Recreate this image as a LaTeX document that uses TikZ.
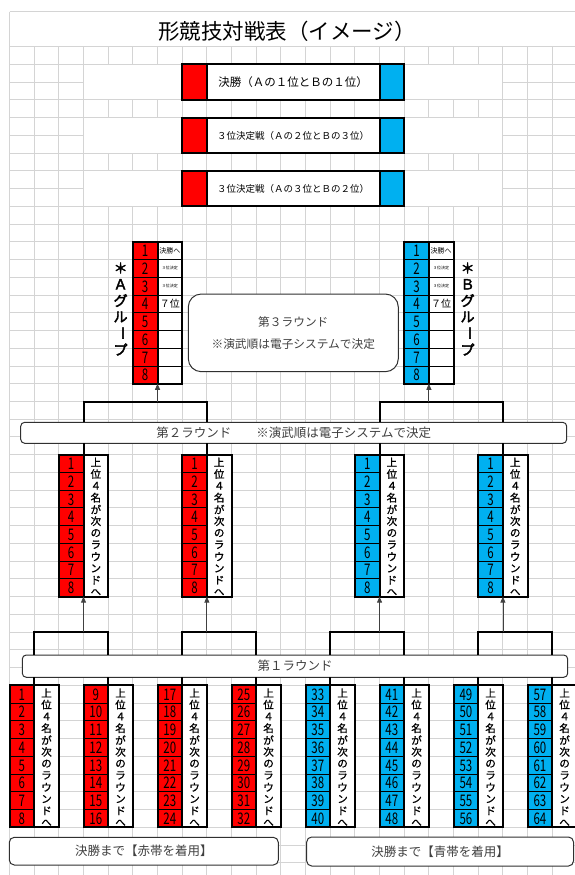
\documentclass[tikz,border=0pt]{standalone}
\usepackage{fontspec}
\usepackage{graphicx}
\setmainfont{Noto Sans CJK JP}
\newfontfamily\jpmed{Noto Sans CJK JP}[FakeBold=1]
\newfontfamily\jpbold{Noto Sans CJK JP}[FakeBold=3]
\usetikzlibrary{arrows.meta}
\definecolor{ared}{HTML}{FF0000}
\definecolor{bblue}{HTML}{00B0F0}
\definecolor{gridc}{HTML}{D4D4D4}
\definecolor{txtg}{HTML}{404040}
\definecolor{boxg}{HTML}{303030}

\newcommand\rtab[5]{%
  \node[numcol,fill=#4,anchor=north west] (#1) at ({X(#2)},{Y(#3)}) {};
  \node[txtcol,anchor=north west] (#1x) at ({X(#2+1)},{Y(#3)}) {};
  \foreach \i in {1,...,7} \draw[thinl] ({X(#2)},{Y(#3+\i)}) -- ({X(#2+1)},{Y(#3+\i)});
  \foreach \i in {0,...,7} {\pgfmathtruncatemacro\num{#5+\i}
    \node[numtxt] (#1n\i) at ({X(#2)+12.335},{Y(#3+\i)+9.1}) {\scalebox{0.72}[1]{\num}};}
  \foreach \c [count=\j from 0] in {上,位,４,名,が,次,の,ラ,ウ,ン,ド,へ}
    \node[vtxt] (#1c\j) at ({X(#2+1)+12.335},{Y(#3)+7.5+\j*11.8}) {\c};
  \draw[tb] (#1.north west) rectangle (#1x.south east);
  \draw[tb] (#1.north east) -- (#1.south east);
}
\newcommand\gtab[3]{%
  \node[numcol,fill=#3,anchor=north west] (#1) at ({X(#2)},{Y(11)}) {};
  \node[txtcol,anchor=north west] (#1x) at ({X(#2+1)},{Y(11)}) {};
  \foreach \i in {1,...,7} \draw[thinl] ({X(#2)},{Y(11+\i)}) -- ({X(#2+2)},{Y(11+\i)});
  \foreach \i in {0,...,7} {\pgfmathtruncatemacro\num{1+\i}
    \node[numtxt] (#1n\i) at ({X(#2)+12.335},{Y(11+\i)+9.1}) {\scalebox{0.72}[1]{\num}};}
  \node[font=\fontsize{7}{7}\selectfont] (#1s1) at ({X(#2+1)+12.335},{Y(11)+8.9}) {決勝へ};
  \node[font=\fontsize{4}{4}\selectfont] (#1s2) at ({X(#2+1)+12.335},{Y(12)+8.9}) {３位決定};
  \node[font=\fontsize{4}{4}\selectfont] (#1s3) at ({X(#2+1)+12.335},{Y(13)+8.9}) {３位決定};
  \node[font=\fontsize{10}{10}\selectfont] (#1s4) at ({X(#2+1)+12.335},{Y(14)+8.9}) {７位};
  \draw[tb] (#1.north west) rectangle (#1x.south east);
  \draw[tb] (#1.north east) -- (#1.south east);
}

\begin{document}
\begin{tikzpicture}[x=1pt,y=-1pt,
  declare function={X(\k)=9.5+\k*24.67; Y(\n)=46.7+\n*17.74;},
  gridl/.style={draw=gridc,line width=1pt},
  tb/.style={line width=2pt},
  thinl/.style={line width=0.9pt},
  numcol/.style={minimum width=24.67pt,minimum height=141.92pt,inner sep=0pt,outer sep=0pt},
  txtcol/.style={minimum width=24.67pt,minimum height=141.92pt,inner sep=0pt,outer sep=0pt,fill=white},
  numtxt/.style={font=\fontsize{16}{16}\selectfont,inner sep=0pt},
  vtxt/.style={font=\jpmed\fontsize{10.5}{10.5}\selectfont,inner sep=0pt},
  rbox/.style={draw=boxg,line width=1pt,fill=white,inner sep=0pt,outer sep=0pt,text=txtg},
  arr/.style={draw=black!75,line width=0.8pt,-{Triangle[length=6pt,width=5pt]}},
  fcell/.style={minimum height=35.48pt,inner sep=0pt,outer sep=0pt},
  glab/.style={font=\jpbold\fontsize{14}{14}\selectfont,inner sep=0pt}
]
\useasboundingbox (0,0) rectangle (575,875);
\fill[white] (0,0) rectangle (575,875);
% spreadsheet grid
\draw[gridl] (9.5,11.7) -- (575,11.7);
\draw[gridl] (9.5,11.7) -- (9.5,875);
\foreach \n in {0,...,47} \draw[gridl] (9.5,{Y(\n)}) -- (575,{Y(\n)});
\foreach \k in {1,...,23} \draw[gridl] ({X(\k)},{Y(0)}) -- ({X(\k)},875);
\foreach \n in {1,4,7} {
  \fill[white] ({X(3)+0.6},{Y(\n)+0.6}) rectangle ({X(7)-0.6},{Y(\n+2)-0.6});
  \fill[white] ({X(16)+0.6},{Y(\n)+0.6}) rectangle ({X(20)-0.6},{Y(\n+2)-0.6});
}
% title
\node[font=\fontsize{21.5}{21.5}\selectfont] (title) at (287,31.5) {形競技対戦表（イメージ）};
% final boxes
\foreach \n/\t/\fs [count=\m] in {1/決勝（Ａの１位とＢの１位）/11.5, 4/３位決定戦（Ａの２位とＢの３位）/9.5, 7/３位決定戦（Ａの３位とＢの２位）/9.5} {
  \node[fcell,fill=ared,minimum width=24.67pt,anchor=north west] (fr\m) at ({X(7)},{Y(\n)}) {};
  \node[fcell,fill=white,minimum width=172.69pt,anchor=north west,font=\fontsize{\fs}{\fs}\selectfont] (fw\m) at ({X(8)},{Y(\n)}) {\t};
  \node[fcell,fill=bblue,minimum width=24.67pt,anchor=north west] (fb\m) at ({X(15)},{Y(\n)}) {};
  \draw[tb] (fr\m.north west) rectangle (fb\m.south east);
  \draw[tb] (fr\m.north east) -- (fr\m.south east);
  \draw[tb] (fb\m.north west) -- (fb\m.south west);
}
% group tables
\gtab{gA}{5}{ared}
\gtab{gB}{16}{bblue}
% group labels
\foreach \c [count=\j from 0] in {＊,Ａ,グ,ル,,プ}
  \node[glab] (la\j) at (120.6,{268+\j*16.3}) {\c};
\foreach \c [count=\j from 0] in {＊,Ｂ,グ,ル,,プ}
  \node[glab] (lb\j) at (467.6,{268+\j*16.3}) {\c};
\node[glab,rotate=-90] (la4r) at (120.6,{268+4*16.3}) {ー};
\node[glab,rotate=-90] (lb4r) at (467.6,{268+4*16.3}) {ー};
% round 3 box
\node[rbox,rounded corners=13pt,minimum width=210pt,minimum height=77.7pt,align=center,
  font=\fontsize{11.7}{22}\selectfont] (r3) at (293.3,332.85) {第３ラウンド\\※演武順は電子システムで決定};
% round 2 box
\node[rbox,rounded corners=4pt,minimum width=546pt,minimum height=21pt,font=\fontsize{12.5}{12.5}\selectfont]
  (r2) at (293.7,432.8) {第２ラウンド　　※演武順は電子システムで決定};
% round 2 tables
\rtab{s1}{2}{23}{ared}{1}
\rtab{s2}{7}{23}{ared}{1}
\rtab{s3}{14}{23}{bblue}{1}
\rtab{s4}{19}{23}{bblue}{1}
% round 1 box
\node[rbox,rounded corners=4pt,minimum width=545.4pt,minimum height=22.3pt,font=\fontsize{12.5}{12.5}\selectfont]
  (r1) at (295,666.15) {第１ラウンド};
% round 1 tables
\rtab{t1}{0}{36}{ared}{1}
\rtab{t2}{3}{36}{ared}{9}
\rtab{t3}{6}{36}{ared}{17}
\rtab{t4}{9}{36}{ared}{25}
\rtab{t5}{12}{36}{bblue}{33}
\rtab{t6}{15}{36}{bblue}{41}
\rtab{t7}{18}{36}{bblue}{49}
\rtab{t8}{21}{36}{bblue}{57}
% bottom boxes
\node[rbox,rounded corners=5pt,minimum width=269pt,minimum height=27.7pt,font=\fontsize{12.5}{12.5}\selectfont]
  (beltR) at (143.8,851.15) {決勝まで【赤帯を着用】};
\node[rbox,rounded corners=5pt,minimum width=266.8pt,minimum height=29pt,font=\fontsize{12.5}{12.5}\selectfont]
  (beltB) at (440.1,851.5) {決勝まで【青帯を着用】};
% brackets round 2 -> group
\coordinate (bA) at ({X(6)},{Y(20)});
\coordinate (bB) at ({X(17)},{Y(20)});
\draw[tb] (s1.north east |- r2.north) -- (s1.north east |- bA) -- (s2.north east |- bA) -- (s2.north east |- r2.north);
\draw[tb] (s3.north east |- r2.north) -- (s3.north east |- bB) -- (s4.north east |- bB) -- (s4.north east |- r2.north);
\draw[arr] (gA.south east |- bA) -- (gA.south east);
\draw[arr] (gB.south east |- bB) -- (gB.south east);
\foreach \s in {s1,s2,s3,s4} \draw[tb] (\s.north east |- r2.south) -- (\s.north east);
% brackets round 1 -> round 2
\coordinate (c1) at ({X(3)},{Y(33)});
\foreach \a/\b/\s in {t1/t2/s1, t3/t4/s2, t5/t6/s3, t7/t8/s4} {
  \draw[tb] (\a.north east |- r1.north) -- (\a.north east |- c1) -- (\b.north east |- c1) -- (\b.north east |- r1.north);
  \draw[arr] (\s.south east |- c1) -- (\s.south east);
}
\foreach \t in {t1,t2,t3,t4,t5,t6,t7,t8} \draw[tb] (\t.north east |- r1.south) -- (\t.north east);
\end{tikzpicture}
\end{document}
